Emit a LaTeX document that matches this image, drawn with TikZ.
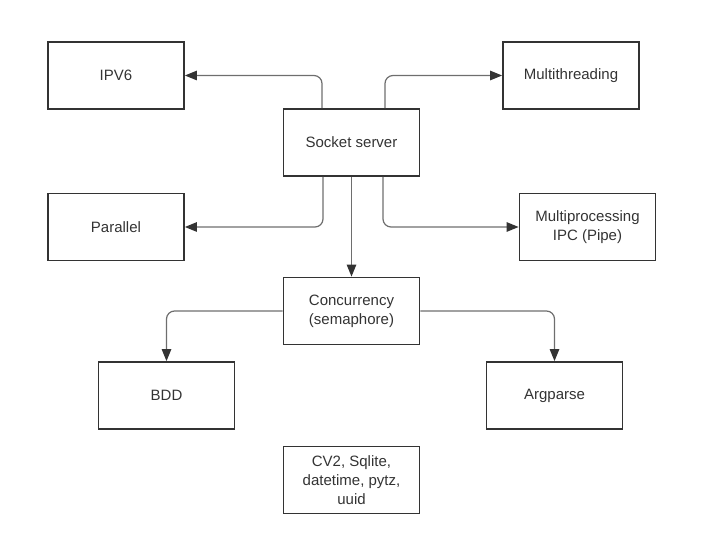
\documentclass[tikz,border=0pt]{standalone}
\usepackage{fontspec}
\setmainfont{Liberation Sans}
\usetikzlibrary{arrows.meta}
\definecolor{boxline}{HTML}{333333}
\definecolor{wire}{HTML}{6E6E6E}
\newcommand{\boxw}{136pt}

\begin{document}
\begin{tikzpicture}[x=1pt,y=-1pt,style=thick]
			\useasboundingbox (0,0) rectangle (704,556);
			\begin{scope}[shape=rectangle]
			\tikzstyle{every node}=[draw=boxline,line width=1.8pt,minimum width=\boxw,minimum height=67pt,align=center,text=boxline,font=\fontsize{15}{19}\selectfont]
			\node (ipv6) at (116,75.5) {IPV6};
			\node (mthread) at (571,75.5) {Multithreading};
			\node (socket) at (351.5,142.5) {Socket server};
			\node (parallel) at (116,227) {Parallel};
			\node (mproc) at (587.5,227) {Multiprocessing\\IPC (Pipe)};
			\node (conc) at (351.5,311) {Concurrency\\(semaphore)};
			\node (bdd) at (166.5,395.5) {BDD};
			\node (argp) at (554.5,395.5) {Argparse};
			\node (libs) at (351.5,480) {CV2, Sqlite,\\datetime, pytz,\\uuid};
			\end{scope}
			\begin{scope}[draw=wire,line width=1.2pt,rounded corners=8pt,-{Triangle[length=12pt,width=9.5pt,color=boxline]}]
			\draw ([xshift=-29.5pt]socket.north) |- (ipv6.east);
			\draw ([xshift=33.5pt]socket.north) |- (mthread.west);
			\draw ([xshift=-28.5pt]socket.south) |- (parallel.east);
			\draw ([xshift=31.5pt]socket.south) |- (mproc.west);
			\draw (socket.south) -- (conc.north);
			\draw (conc.west) -| (bdd.north);
			\draw (conc.east) -| (argp.north);
			\end{scope}
		\end{tikzpicture}
\end{document}
